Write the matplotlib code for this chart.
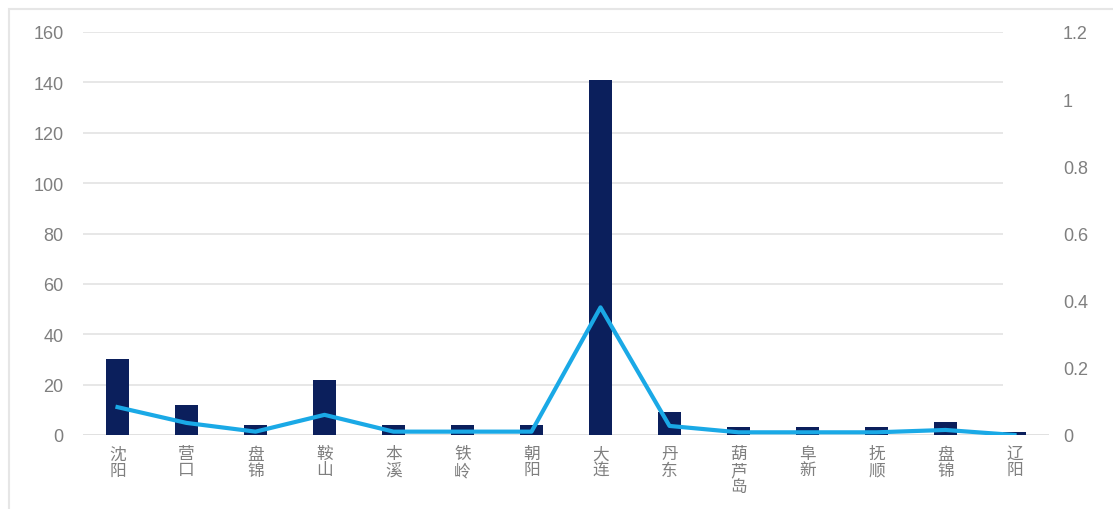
import matplotlib.pyplot as plt
from matplotlib.patches import Rectangle

plt.rcParams['font.family'] = ['Liberation Sans', 'Noto Sans CJK SC', 'DejaVu Sans']

cities = ["沈阳", "营口", "盘锦", "鞍山", "本溪", "铁岭", "朝阳",
          "大连", "丹东", "葫芦岛", "阜新", "抚顺", "盘锦", "辽阳"]
counts = [30, 12, 4, 22, 4, 4, 4, 141, 9, 3, 3, 3, 5, 1]
ratio = [0.083, 0.036, 0.01, 0.06, 0.01, 0.01, 0.01,
         0.38, 0.027, 0.008, 0.008, 0.008, 0.015, 0.0]
left_ticks = [0, 20, 40, 60, 80, 100, 120, 140, 160]
right_ticks = [0, 0.2, 0.4, 0.6, 0.8, 1.0, 1.2]
right_labels = ["0", "0.2", "0.4", "0.6", "0.8", "1", "1.2"]

grey = "#7f7f7f"
W, H = 1113, 510

fig = plt.figure(figsize=(W / 100, H / 100), dpi=100)
ax = fig.add_axes([83 / W, 1 - 436 / H, 966 / W, 403 / H])
ax2 = ax.twinx()

x = list(range(len(cities)))
ax.bar(x, counts, width=0.32, color="#0b1f5c", zorder=2)
ax2.plot(x, ratio, color="#1aa9e6", linewidth=3, zorder=3)

ax.set_xlim(-0.5, len(cities) - 0.5)
ax.set_ylim(0, 160)
ax2.set_ylim(0, 1.2)
ax.set_yticks(left_ticks)
ax2.set_yticks(right_ticks)
ax2.set_yticklabels(right_labels)
ax.set_xticks(x)
ax.set_xticklabels(["\n".join(c) for c in cities], va="top", linespacing=1.1)

# gridlines stop short of the right edge, the baseline runs the full width
ax.hlines(left_ticks[1:], 0, (1003 - 83) / 966, transform=ax.get_yaxis_transform(),
          color="#e3e3e3", linewidth=1.2, zorder=0)
ax.axhline(0, color="#dcdcdc", linewidth=1.2, zorder=1)

for a in (ax, ax2):
    for s in a.spines.values():
        s.set_visible(False)
    a.tick_params(length=0, colors=grey, labelsize=13)
ax.tick_params(axis="y", pad=14)
ax2.tick_params(axis="y", pad=10)
ax.tick_params(axis="x", pad=8, labelsize=12)

fig.patches.append(Rectangle((9 / W, -0.1), 1.2, 1.1 - 10 / H,
                             transform=fig.transFigure, fill=False,
                             edgecolor="#e6e6e6", linewidth=1.5))

fig.savefig("out.png", dpi=100)
